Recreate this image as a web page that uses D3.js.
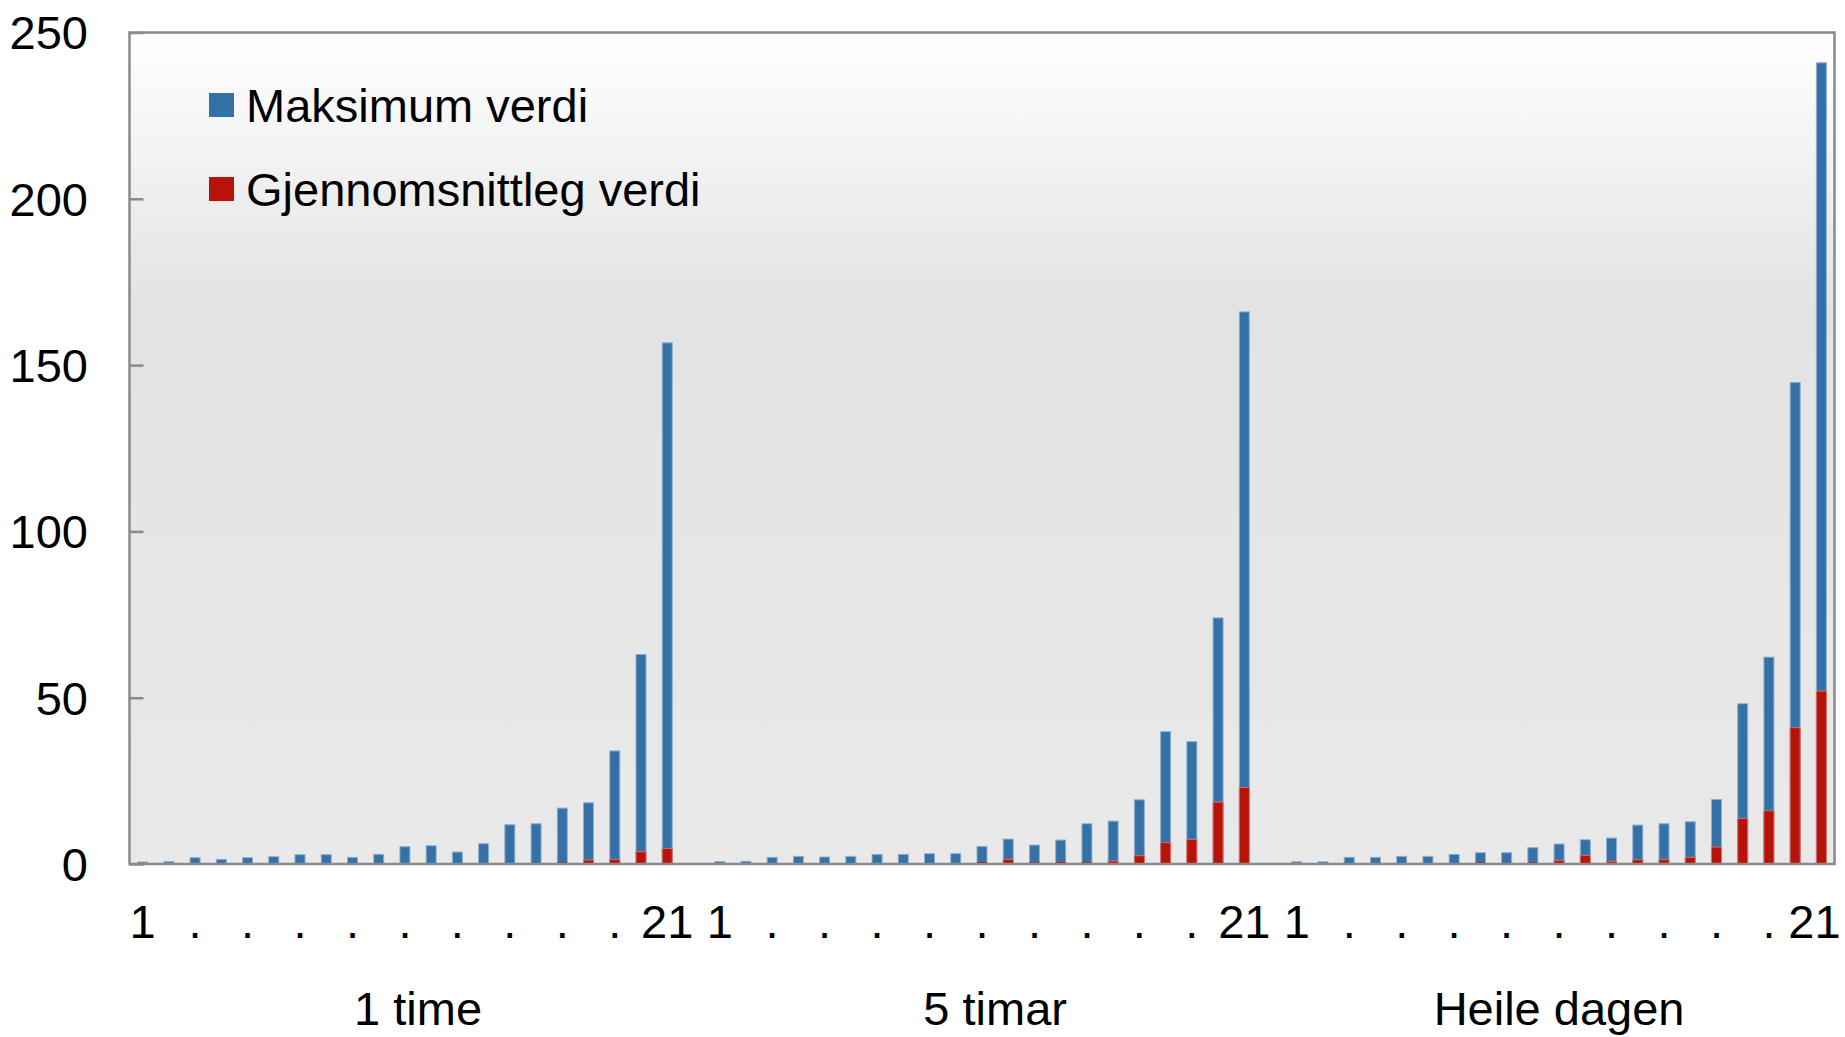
<!DOCTYPE html>
<html>
<head>
<meta charset="utf-8">
<script src="https://cdn.jsdelivr.net/npm/d3@7/dist/d3.min.js"></script>
<style>
  html, body { margin: 0; padding: 0; background: #ffffff; }
  svg { display: block; font-family: "Liberation Sans", Arial, sans-serif; }
</style>
</head>
<body>
<svg id="chart" width="1845" height="1037"></svg>
<script>
// ---------- DATA ----------
const groups = ["1 time", "5 timar", "Heile dagen"];
const seriesNames = ["Maksimum verdi", "Gjennomsnittleg verdi"];
const tickLabels = ["1", ".", ".", ".", ".", ".", ".", ".", ".", ".", "21"]; // every second bar
const yTicks = [0, 50, 100, 150, 200, 250];

const maxTime1 = [0.6, 0.7, 1.9, 1.4, 1.9, 2.2, 2.8, 2.8, 2.0, 2.9, 5.2, 5.5, 3.6, 6.1, 11.8, 12.1, 16.8, 18.4, 34.0, 63.0, 156.7];
const avgTime1 = [0.05, 0.05, 0.1, 0.1, 0.1, 0.1, 0.1, 0.2, 0.1, 0.2, 0.2, 0.3, 0.2, 0.2, 0.2, 0.3, 0.5, 1.2, 1.4, 3.7, 4.7];

const maxTime5 = [0.7, 0.8, 2.0, 2.3, 2.1, 2.3, 2.9, 2.9, 3.1, 3.1, 5.3, 7.5, 5.7, 7.2, 12.1, 12.9, 19.3, 39.8, 36.8, 74.0, 166.0];
const avgTime5 = [0.05, 0.05, 0.1, 0.3, 0.1, 0.2, 0.2, 0.2, 0.1, 0.1, 0.6, 1.4, 0.5, 0.6, 0.5, 0.9, 2.5, 6.4, 7.4, 18.6, 23.0];

const maxDay = [0.65, 0.65, 2.0, 2.0, 2.3, 2.3, 2.9, 3.4, 3.4, 4.9, 6.0, 7.3, 7.8, 11.7, 12.1, 12.7, 19.4, 48.2, 62.2, 144.8, 240.9];
const avgDay = [0.1, 0.1, 0.1, 0.3, 0.1, 0.1, 0.1, 0.5, 0.1, 0.5, 1.1, 2.6, 0.8, 1.3, 1.3, 2.0, 5.1, 13.7, 16.0, 41.0, 52.0];

const maxSeries = [maxTime1, maxTime5, maxDay];
const avgSeries = [avgTime1, avgTime5, avgDay];

// ---------- LAYOUT ----------
const colors = { max: "#3471a7", avg: "#b71309", maxEdge: "#8fb0d2", avgEdge: "#d8706a" };
const W = 1845, H = 1037;
const plot = { left: 129.5, right: 1834.5, top: 32.5, bottom: 864 };
const FONT = 47;

// Build slot keys: 21 bars per group, with an empty slot after group 1 and 2
const slots = [];
const rows = [];
groups.forEach((g, gi) => {
  for (let i = 0; i < maxSeries[gi].length; i++) {
    const key = g + "|" + i;
    slots.push(key);
    rows.push({ key, group: g, gi, i, max: maxSeries[gi][i], avg: avgSeries[gi][i] });
  }
  if (gi < groups.length - 1) slots.push(g + "|gap");
});

const svg = d3.select("#chart");

const x = d3.scaleBand()
  .domain(slots)
  .range([plot.left, plot.right])
  .paddingInner(0.58)
  .paddingOuter(0.29);

const y = d3.scaleLinear().domain([0, 250]).range([plot.bottom, plot.top]);

// Background gradient
const defs = svg.append("defs");
const grad = defs.append("linearGradient")
  .attr("id", "bg").attr("x1", 0).attr("y1", 0).attr("x2", 0).attr("y2", 1);
grad.append("stop").attr("offset", "0%").attr("stop-color", "#ffffff");
grad.append("stop").attr("offset", "33%").attr("stop-color", "#e3e3e3");
grad.append("stop").attr("offset", "100%").attr("stop-color", "#e9e9e9");

svg.append("rect")
  .attr("x", plot.left).attr("y", plot.top)
  .attr("width", plot.right - plot.left).attr("height", plot.bottom - plot.top)
  .attr("fill", "url(#bg)");

// Bars: maximum (back), average (front), both from zero
const barG = svg.append("g");
barG.selectAll("rect.max").data(rows).join("rect")
  .attr("class", "max")
  .attr("x", d => x(d.key) + 0.5)
  .attr("width", x.bandwidth() - 1)
  .attr("y", d => y(d.max))
  .attr("height", d => y(0) - y(d.max))
  .attr("fill", colors.max)
  .attr("stroke", colors.maxEdge)
  .attr("stroke-width", 1);

barG.selectAll("rect.avg").data(rows).join("rect")
  .attr("class", "avg")
  .attr("x", d => x(d.key) + 0.5)
  .attr("width", x.bandwidth() - 1)
  .attr("y", d => y(d.avg))
  .attr("height", d => y(0) - y(d.avg))
  .attr("fill", colors.avg)
  .attr("stroke", colors.avgEdge)
  .attr("stroke-width", d => (y(0) - y(d.avg)) > 2 ? 1 : 0);

// Frame
svg.append("rect")
  .attr("x", plot.left).attr("y", plot.top)
  .attr("width", plot.right - plot.left).attr("height", plot.bottom - plot.top)
  .attr("fill", "none")
  .attr("stroke", "#8a8a8a")
  .attr("stroke-width", 2.5);

// Y axis (ticks inward, labels outside)
const yAxis = d3.axisRight(y).tickValues(yTicks).tickSize(14).tickFormat("");
const yg = svg.append("g").attr("transform", `translate(${plot.left},0)`).call(yAxis);
yg.select(".domain").remove();
yg.selectAll(".tick line").attr("stroke", "#8a8a8a").attr("stroke-width", 2.5);

const yLab = svg.append("g");
yLab.selectAll("text").data(yTicks).join("text")
  .attr("x", 88)
  .attr("y", d => y(d))
  .attr("dy", "0.36em")
  .attr("text-anchor", "end")
  .attr("font-size", FONT)
  .attr("fill", "#000")
  .text(d => d);

// X tick labels (every second bar)
const lastKey = rows[rows.length - 1].key;
const xAxis = d3.axisBottom(x)
  .tickValues(rows.filter(r => r.i % 2 === 0).map(r => r.key))
  .tickSize(0)
  .tickPadding(0)
  .tickFormat(k => tickLabels[+k.split("|")[1] / 2]);
const xg = svg.append("g").attr("transform", `translate(0,${plot.bottom})`).call(xAxis);
xg.select(".domain").remove();
xg.selectAll(".tick text")
  .attr("y", 74)
  .attr("dy", 0)
  .attr("dx", k => k === lastKey ? -7 : 0)
  .attr("font-size", FONT)
  .attr("font-family", "Liberation Sans, Arial, sans-serif")
  .attr("fill", "#000");

// Group labels centred on each group's span (including the blank slot)
const step = x.step();
groups.forEach((g, gi) => {
  const nSlots = maxSeries[gi].length + (gi < groups.length - 1 ? 1 : 0);
  svg.append("text")
    .attr("x", plot.left + (slots.indexOf(g + "|0") + nSlots / 2) * step)
    .attr("y", 1025)
    .attr("text-anchor", "middle")
    .attr("font-size", FONT)
    .attr("fill", "#000")
    .text(g);
});

// Legend
const legend = svg.append("g");
const legendItems = [
  { name: seriesNames[0], color: colors.max, y: 93 },
  { name: seriesNames[1], color: colors.avg, y: 177 }
];
legend.selectAll("rect").data(legendItems).join("rect")
  .attr("x", 209).attr("y", d => d.y)
  .attr("width", 25).attr("height", 24)
  .attr("fill", d => d.color);
legend.selectAll("text").data(legendItems).join("text")
  .attr("x", 246).attr("y", d => d.y + 29)
  .attr("font-size", FONT)
  .attr("fill", "#000")
  .text(d => d.name);
</script>
</body>
</html>
